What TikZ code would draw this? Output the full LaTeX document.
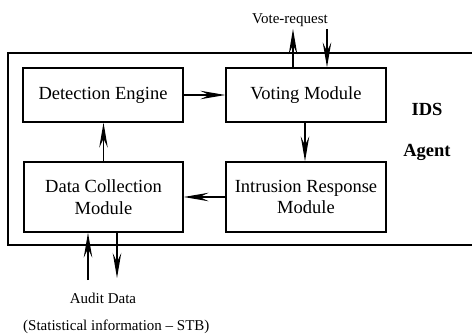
\documentclass[tikz,border=0pt]{standalone}
\usepackage{fontspec}
\setmainfont{Liberation Serif}
\usetikzlibrary{arrows.meta}
\begin{document}
\begin{tikzpicture}[x=1pt,y=-1pt,
  box/.style={draw,line width=1.3pt,inner sep=0pt,align=center,font=\fontsize{18.5}{21.5}\selectfont},
  lbl/.style={inner sep=0pt,font=\fontsize{15}{17}\selectfont},
  arr/.style={line width=1.3pt,-{Stealth[length=25pt,width=8.5pt,inset=9pt]}}]
\useasboundingbox (0,0) rectangle (472,335);
\draw[line width=1.3pt] (8,53) rectangle (490,245);
\node[box,minimum width=160pt,minimum height=54pt] (de) at (103,95) {Detection Engine};
\node[box,minimum width=160pt,minimum height=54pt] (vm) at (306,95) {Voting Module};
\node[box,minimum width=159pt,minimum height=70pt] (dcm) at (103.5,197) {Data Collection\\Module};
\node[box,minimum width=160pt,minimum height=70pt] (irm) at (306,197) {Intrusion Response\\Module};
\node[lbl] (vr) at (290,20) {Vote-request};
\node[inner sep=0pt,font=\fontsize{18.5}{21}\selectfont\bfseries] (ids) at (427,109) {IDS};
\node[inner sep=0pt,font=\fontsize{18.5}{21}\selectfont\bfseries] (ag) at (427,152) {Agent};
\node[lbl] (ad) at (103,298) {Audit Data};
\node[lbl,anchor=west] (stb) at (23,326.5) {(Statistical information -- STB)};
\coordinate (vu) at (293,29);
\coordinate (vd) at (327,29);
\coordinate (au) at (88,280);
\coordinate (ado) at (117,278);
\draw[arr] (de.east) -- (vm.west);
\draw[arr] (vm.south -| 305,0) -- (irm.north -| 305,0);
\draw[arr] (dcm.north) -- (de.south -| dcm.north);
\draw[arr] (irm.west) -- (dcm.east);
\draw[arr] (vm.north -| vu) -- (vu);
\draw[arr] (vd) -- (vm.north -| vd);
\draw[arr] (au) -- (dcm.south -| au);
\draw[arr] (dcm.south -| ado) -- (ado);
\end{tikzpicture}
\end{document}
